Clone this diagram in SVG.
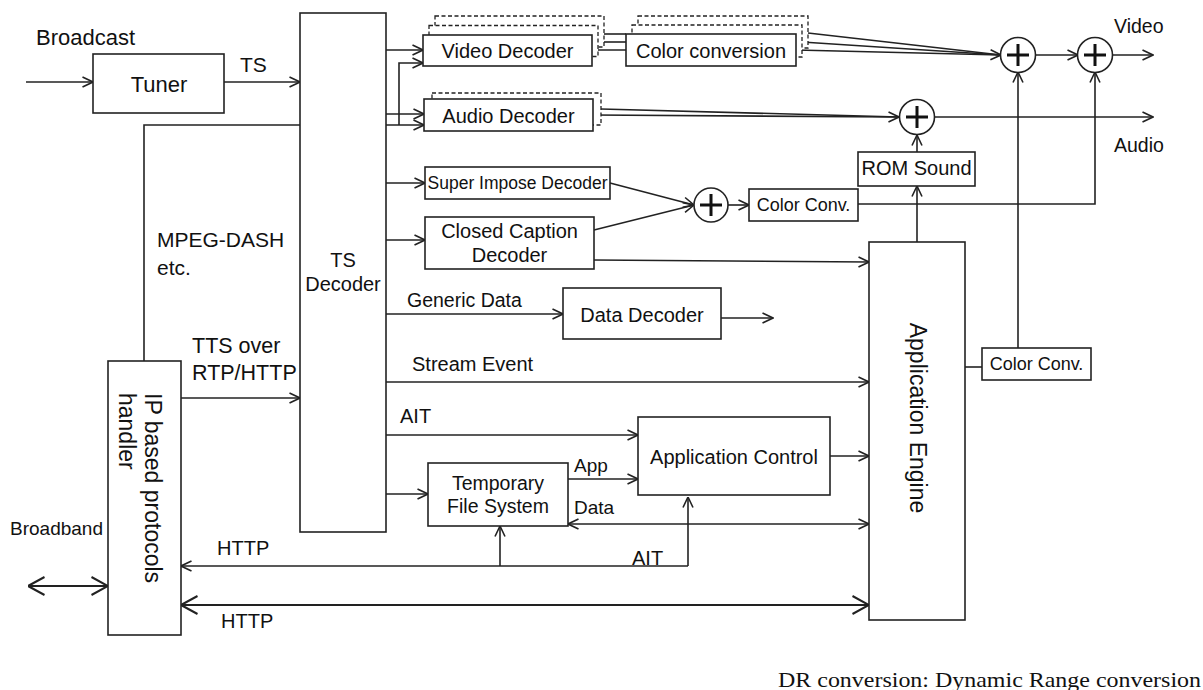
<svg xmlns="http://www.w3.org/2000/svg" width="1203" height="690" viewBox="0 0 1203 690">
<style>
.box{fill:#fff;stroke:#222;stroke-width:1.6}
.dash{fill:#fff;stroke:#222;stroke-width:1.3;stroke-dasharray:4 2.5}
.ln{fill:none;stroke:#222;stroke-width:1.6}
.arr{marker-end:url(#ah)}
.arrS{marker-start:url(#ah)}
.big{marker-start:url(#ahL);marker-end:url(#ahL);stroke-width:2}
.plus{stroke:#111;stroke-width:3}
text{font-family:"Liberation Sans",Arial,sans-serif;fill:#111;font-size:20px}
.m{text-anchor:middle}
</style>
<defs>
<marker id="ah" viewBox="0 0 12 12" refX="11.5" refY="6" markerWidth="12" markerHeight="12" markerUnits="userSpaceOnUse" orient="auto-start-reverse"><path d="M1,1 L11.5,6 L1,11" fill="none" stroke="#222" stroke-width="1.6"/></marker>
<marker id="ahL" viewBox="0 0 18 20" refX="17.5" refY="10" markerWidth="18" markerHeight="20" markerUnits="userSpaceOnUse" orient="auto-start-reverse"><path d="M1,1 L17.5,10 L1,19" fill="none" stroke="#222" stroke-width="2"/></marker>
</defs>
<rect width="1203" height="690" fill="#fff"/>

<g id="connectors">
<line class="ln arr" x1="26" y1="82" x2="93" y2="82"/>
<line class="ln arr" x1="224" y1="82" x2="300" y2="82"/>
<polyline class="ln" points="144,361 144,125 300,125"/>
<line class="ln arr" x1="181" y1="398" x2="300" y2="398"/>
<line class="ln big" x1="28" y1="586" x2="108" y2="586"/>
<line class="ln big" x1="181" y1="605" x2="869" y2="605"/>
<line class="ln arrS" x1="181" y1="566" x2="688" y2="566"/>
<polyline class="ln arr" points="688,566 688,497"/>
<line class="ln arr" x1="500" y1="566" x2="500" y2="526"/>
<!-- TS decoder outputs -->
<line class="ln arr" x1="386" y1="50" x2="423" y2="50"/>
<line class="ln arr" x1="386" y1="114" x2="424" y2="114"/>
<line class="ln arr" x1="386" y1="125" x2="424" y2="125"/>
<polyline class="ln arr" points="399,125 399,63 423,63"/>
<line class="ln arr" x1="386" y1="183" x2="425" y2="183"/>
<line class="ln arr" x1="386" y1="240" x2="425" y2="240"/>
<line class="ln arr" x1="386" y1="314" x2="563" y2="314"/>
<line class="ln arr" x1="386" y1="382" x2="869" y2="382"/>
<line class="ln arr" x1="386" y1="435" x2="638" y2="435"/>
<line class="ln arr" x1="386" y1="494" x2="428" y2="494"/>
<!-- video chain -->
<line class="ln" x1="604" y1="34" x2="626" y2="34"/>
<line class="ln" x1="598" y1="42" x2="626" y2="42"/>
<line class="ln" x1="592" y1="50" x2="626" y2="50"/>
<line class="ln" x1="808" y1="33" x2="1001" y2="55"/>
<line class="ln" x1="802" y1="42" x2="1001" y2="55"/>
<line class="ln arr" x1="796" y1="50" x2="1001" y2="55"/>
<line class="ln arr" x1="1035" y1="55" x2="1078" y2="55"/>
<line class="ln arr" x1="1112" y1="55" x2="1153" y2="55"/>
<!-- audio chain -->
<line class="ln" x1="601" y1="109" x2="899" y2="117"/>
<line class="ln arr" x1="593" y1="115" x2="899" y2="117"/>
<line class="ln arr" x1="934" y1="117" x2="1153" y2="117"/>
<line class="ln arr" x1="917" y1="152" x2="917" y2="135"/>
<line class="ln arr" x1="917" y1="242" x2="917" y2="186"/>
<!-- superimpose / caption -->
<line class="ln arr" x1="610" y1="183" x2="694" y2="205"/>
<line class="ln arr" x1="594" y1="230" x2="694" y2="205"/>
<line class="ln arr" x1="728" y1="205" x2="749" y2="205"/>
<polyline class="ln arr" points="858,204 1095,204 1095,72"/>
<line class="ln arr" x1="1018" y1="348" x2="1018" y2="72"/>
<line class="ln" x1="965" y1="367" x2="982" y2="367"/>
<line class="ln arr" x1="594" y1="260" x2="869" y2="262"/>
<line class="ln arr" x1="721" y1="318" x2="773" y2="318"/>
<!-- app control -->
<line class="ln arr" x1="568" y1="479" x2="638" y2="479"/>
<line class="ln arr" x1="830" y1="456" x2="869" y2="456"/>
<line class="ln arr arrS" x1="568" y1="524" x2="869" y2="524"/>
</g>

<g id="tuner"><rect class="box" x="93" y="54" width="131" height="59"/><text class="m" x="159" y="92" style="font-size:22px">Tuner</text></g>
<g id="ts-decoder"><rect class="box" x="300" y="13" width="86" height="519"/><text class="m" x="343" y="267">TS</text><text class="m" x="343" y="291">Decoder</text></g>
<g id="ip-handler"><rect class="box" x="108" y="361" width="73" height="274"/>
<text transform="translate(145,393) rotate(90)" style="font-size:23px">IP based protocols</text>
<text transform="translate(119,393) rotate(90)" style="font-size:23px">handler</text></g>

<g id="video-decoder">
<rect class="dash" x="435" y="16" width="169" height="31"/>
<rect class="dash" x="429" y="25.5" width="169" height="31"/>
<rect class="box" x="423" y="35" width="169" height="31"/>
<text class="m" x="507.5" y="58">Video Decoder</text></g>
<g id="color-conversion">
<rect class="dash" x="638" y="16" width="170" height="32"/>
<rect class="dash" x="632" y="25" width="170" height="32"/>
<rect class="box" x="626" y="34" width="170" height="32"/>
<text class="m" x="711" y="58">Color conversion</text></g>
<g id="audio-decoder">
<rect class="dash" x="432" y="93" width="169" height="32"/>
<rect class="box" x="424" y="99" width="169" height="32"/>
<text class="m" x="508.5" y="123">Audio Decoder</text></g>
<g id="superimpose"><rect class="box" x="425" y="167" width="185" height="32"/><text class="m" x="517.5" y="189" style="font-size:17.5px">Super Impose Decoder</text></g>
<g id="closed-caption"><rect class="box" x="425" y="217" width="169" height="52"/><text class="m" x="509.5" y="238">Closed Caption</text><text class="m" x="509.5" y="262">Decoder</text></g>
<g id="data-decoder"><rect class="box" x="563" y="288" width="158" height="51"/><text class="m" x="642" y="322">Data Decoder</text></g>
<g id="app-control"><rect class="box" x="638" y="417" width="192" height="78"/><text class="m" x="734" y="464">Application Control</text></g>
<g id="tfs"><rect class="box" x="428" y="463" width="140" height="63"/><text class="m" x="498" y="490" style="font-size:19.5px">Temporary</text><text class="m" x="498" y="513" style="font-size:19.5px">File System</text></g>
<g id="app-engine"><rect class="box" x="869" y="242" width="96" height="378"/><text class="m" transform="translate(910,418) rotate(90)" style="font-size:23px">Application Engine</text></g>
<g id="rom-sound"><rect class="box" x="858" y="152" width="117" height="34"/><text class="m" x="916.5" y="175">ROM Sound</text></g>
<g id="color-conv-mid"><rect class="box" x="749" y="189" width="109" height="32"/><text class="m" x="803.5" y="211" style="font-size:18px">Color Conv.</text></g>
<g id="color-conv-right"><rect class="box" x="982" y="348" width="109" height="32"/><text class="m" x="1036.5" y="370" style="font-size:18px">Color Conv.</text></g>

<g id="sum-mid"><circle class="box" cx="711" cy="205" r="17"/><path class="plus" d="M700,205 H722 M711,194 V216"/></g>
<g id="sum-audio"><circle class="box" cx="917" cy="117" r="17.5"/><path class="plus" d="M906,117 H928 M917,106 V128"/></g>
<g id="sum-video1"><circle class="box" cx="1018" cy="55" r="17.5"/><path class="plus" d="M1007,55 H1029 M1018,44 V66"/></g>
<g id="sum-video2"><circle class="box" cx="1095" cy="55" r="17.5"/><path class="plus" d="M1084,55 H1106 M1095,44 V66"/></g>

<g id="labels">
<text x="36" y="45" style="font-size:22px">Broadcast</text>
<text x="240" y="72" style="font-size:21px">TS</text>
<text x="157" y="247" style="font-size:21px">MPEG-DASH</text>
<text x="157" y="275" style="font-size:21px">etc.</text>
<text x="192" y="353" style="font-size:21.5px">TTS over</text>
<text x="192" y="380" style="font-size:21.5px">RTP/HTTP</text>
<text x="10" y="535" style="font-size:19px">Broadband</text>
<text x="217" y="555">HTTP</text>
<text x="221" y="628">HTTP</text>
<text x="632" y="565">AIT</text>
<text x="407" y="307" style="font-size:19.5px">Generic Data</text>
<text x="412" y="371">Stream Event</text>
<text x="400" y="423">AIT</text>
<text x="574" y="472" style="font-size:19px">App</text>
<text x="574" y="514" style="font-size:19px">Data</text>
<text x="1114" y="33" style="font-size:19.5px">Video</text>
<text x="1114" y="152" style="font-size:19.5px">Audio</text>
<text x="778" y="687" textLength="423" lengthAdjust="spacingAndGlyphs" style="font-family:'Liberation Serif','Times New Roman',serif;font-size:22px">DR conversion: Dynamic Range conversion</text>
</g>
</svg>
